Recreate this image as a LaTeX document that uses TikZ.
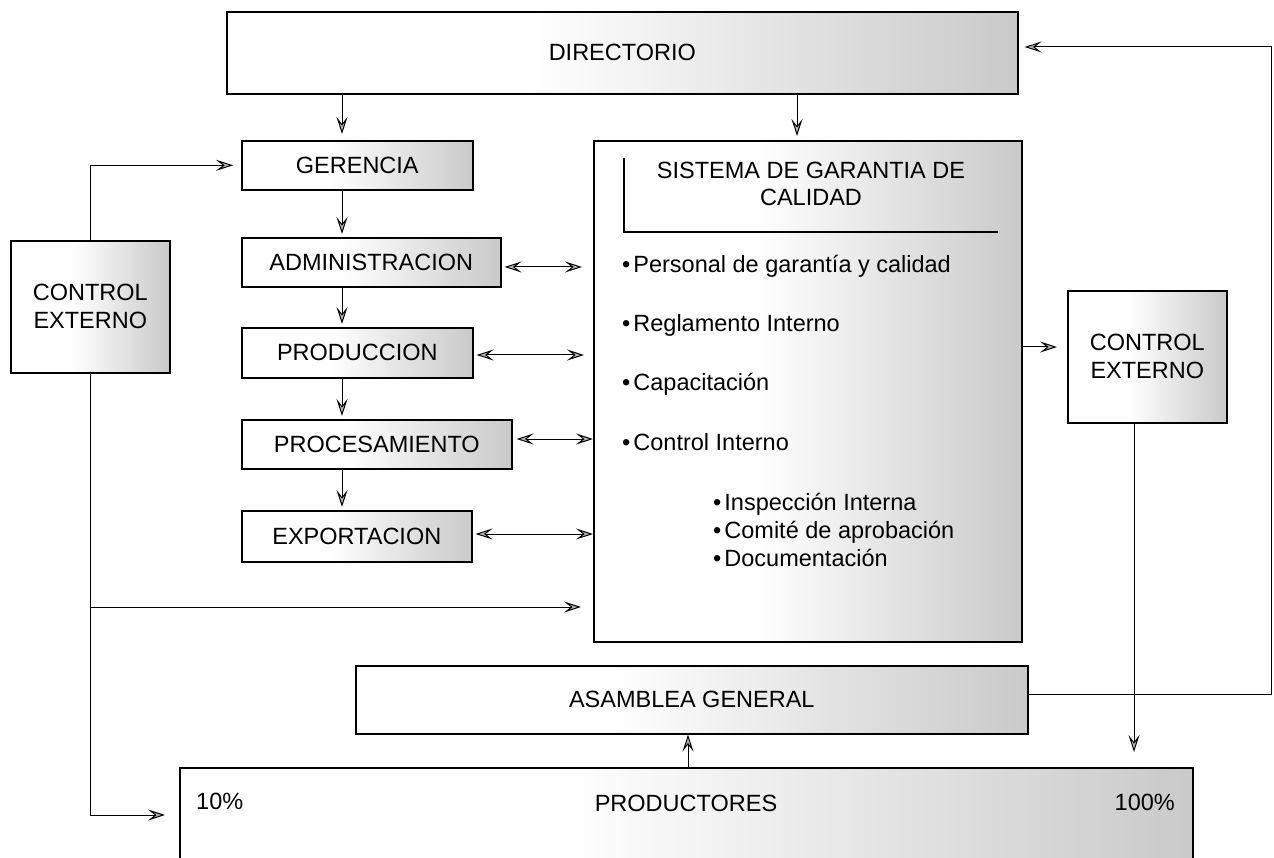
\documentclass[tikz,border=0pt]{standalone}
\usepackage{fontspec}
\setmainfont{Liberation Sans}
\usetikzlibrary{arrows.meta}
\pgfdeclarehorizontalshading{boxshade}{100bp}{color(0bp)=(white); color(44bp)=(white); color(75bp)=(black!21); color(100bp)=(black!21)}
\tikzset{
  myhead/.tip={Stealth[length=17pt,width=11pt,inset=7pt,fill=black!28]},
  boxnode/.style={draw=black, line width=1.6pt, shade, shading=boxshade, inner sep=0pt,
    anchor=north west, align=center, font=\fontsize{23.5}{28}\selectfont},
  txt/.style={inner sep=0pt, font=\fontsize{23.5}{28}\selectfont},
  conn/.style={line width=1pt},
  arr/.style={conn, -myhead},
  dbl/.style={conn, myhead-myhead},
}
\begin{document}
\begin{tikzpicture}[x=1pt,y=-1pt]
\useasboundingbox (0,0) rectangle (1274,858);
% boxes
\node[boxnode, minimum width=791pt, minimum height=82pt] (dir) at (226,11) {DIRECTORIO};
\node[boxnode, minimum width=231pt, minimum height=49pt] (ger) at (241,140) {GERENCIA};
\node[boxnode, minimum width=259pt, minimum height=49pt] (adm) at (241,237) {ADMINISTRACION};
\node[boxnode, minimum width=231pt, minimum height=50pt] (pro) at (241,327) {PRODUCCION};
\node[boxnode, minimum width=270pt, minimum height=49pt] (prc) at (241,419) {PROCESAMIENTO};
\node[boxnode, minimum width=230pt, minimum height=51pt] (exp) at (241,510) {EXPORTACION};
\node[boxnode, minimum width=159pt, minimum height=132pt] (cl) at (10,240) {CONTROL\\EXTERNO};
\node[boxnode, minimum width=428pt, minimum height=501pt] (sis) at (593,140) {};
\node[boxnode, minimum width=159pt, minimum height=132pt] (cr) at (1067,290) {CONTROL\\EXTERNO};
\node[boxnode, minimum width=672pt, minimum height=68pt] (asm) at (355,665) {ASAMBLEA GENERAL};
\node[boxnode, minimum width=1013pt, minimum height=110pt] (prd) at (179,767) {};
% texts inside
\node[txt, align=center, font=\fontsize{23.5}{27}\selectfont] (tit) at (811,184) {SISTEMA DE GARANTIA DE\\CALIDAD};
\coordinate (fa) at (624,158);
\coordinate (fb) at (624,232);
\coordinate (fc) at (998,232);
\draw[line width=1.2pt] (fa) -- (fb) -- (fc);
\node[txt, anchor=base west] (b1) at (622,273) {•\hspace{3pt}Personal de garantía y calidad};
\node[txt, anchor=base west] (b2) at (622,332) {•\hspace{3pt}Reglamento Interno};
\node[txt, anchor=base west] (b3) at (622,391) {•\hspace{3pt}Capacitación};
\node[txt, anchor=base west] (b4) at (622,450) {•\hspace{3pt}Control Interno};
\node[txt, anchor=base west] (s1) at (713,510) {•\hspace{3pt}Inspección Interna};
\node[txt, anchor=base west] (s2) at (713,538) {•\hspace{3pt}Comité de aprobación};
\node[txt, anchor=base west] (s3) at (713,566) {•\hspace{3pt}Documentación};
\node[txt, anchor=base] (prdt) at (686,811) {PRODUCTORES};
\node[txt, anchor=base west] (p10) at (196,809) {10\%};
\node[txt, anchor=base east] (p100) at (1175,810) {100\%};
% helper coordinates
\coordinate (colx) at (342,0);
\coordinate (sisx) at (797,0);
\coordinate (y347) at (0,347);
\coordinate (crx) at (1134,0);
\coordinate (asmx) at (688,0);
\coordinate (rt) at (1271,47);
\coordinate (rb) at (1271,694);
\coordinate (ce1) at (89.5,607);
\coordinate (prdin) at (179,815);
\coordinate (ya) at (0,267);
\coordinate (yb) at (0,355);
\coordinate (yc) at (0,439);
\coordinate (yd) at (0,534);
% vertical chain
\draw[arr, shorten >=6pt] (dir.south -| colx) -- (ger.north -| colx);
\draw[arr, shorten >=3pt] (ger.south -| colx) -- (adm.north -| colx);
\draw[arr, shorten >=3pt] (adm.south -| colx) -- (pro.north -| colx);
\draw[arr, shorten >=3pt] (pro.south -| colx) -- (prc.north -| colx);
\draw[arr, shorten >=3pt] (prc.south -| colx) -- (exp.north -| colx);
\draw[arr, shorten >=4pt] (dir.south -| sisx) -- (sis.north -| sisx);
% double arrows
\draw[dbl, shorten <=3pt, shorten >=11pt] (adm.east |- ya) -- (sis.west |- ya);
\draw[dbl, shorten <=3pt, shorten >=9pt] (pro.east |- yb) -- (sis.west |- yb);
\draw[dbl, shorten <=4pt] (prc.east |- yc) -- (sis.west |- yc);
\draw[dbl, shorten <=3pt] (exp.east |- yd) -- (sis.west |- yd);
% left control
\draw[arr, shorten >=8pt] (cl.north) |- (ger.west);
\draw[arr, shorten >=14pt] (cl.south) |- (prdin);
\draw[arr, shorten >=12pt] (ce1) -- (ce1 -| sis.west);
% right control
\draw[arr, shorten >=10pt] (sis.east |- y347) -- (cr.west |- y347);
\draw[arr, shorten >=15pt] (cr.south -| crx) -- (prd.north -| crx);
% asamblea loop
\draw[arr, shorten >=6pt] (asm.east |- rb) -- (rb) -- (rt) -- (rt -| dir.east);
\draw[arr] (prd.north -| asmx) -- (asm.south -| asmx);
\end{tikzpicture}
\end{document}
